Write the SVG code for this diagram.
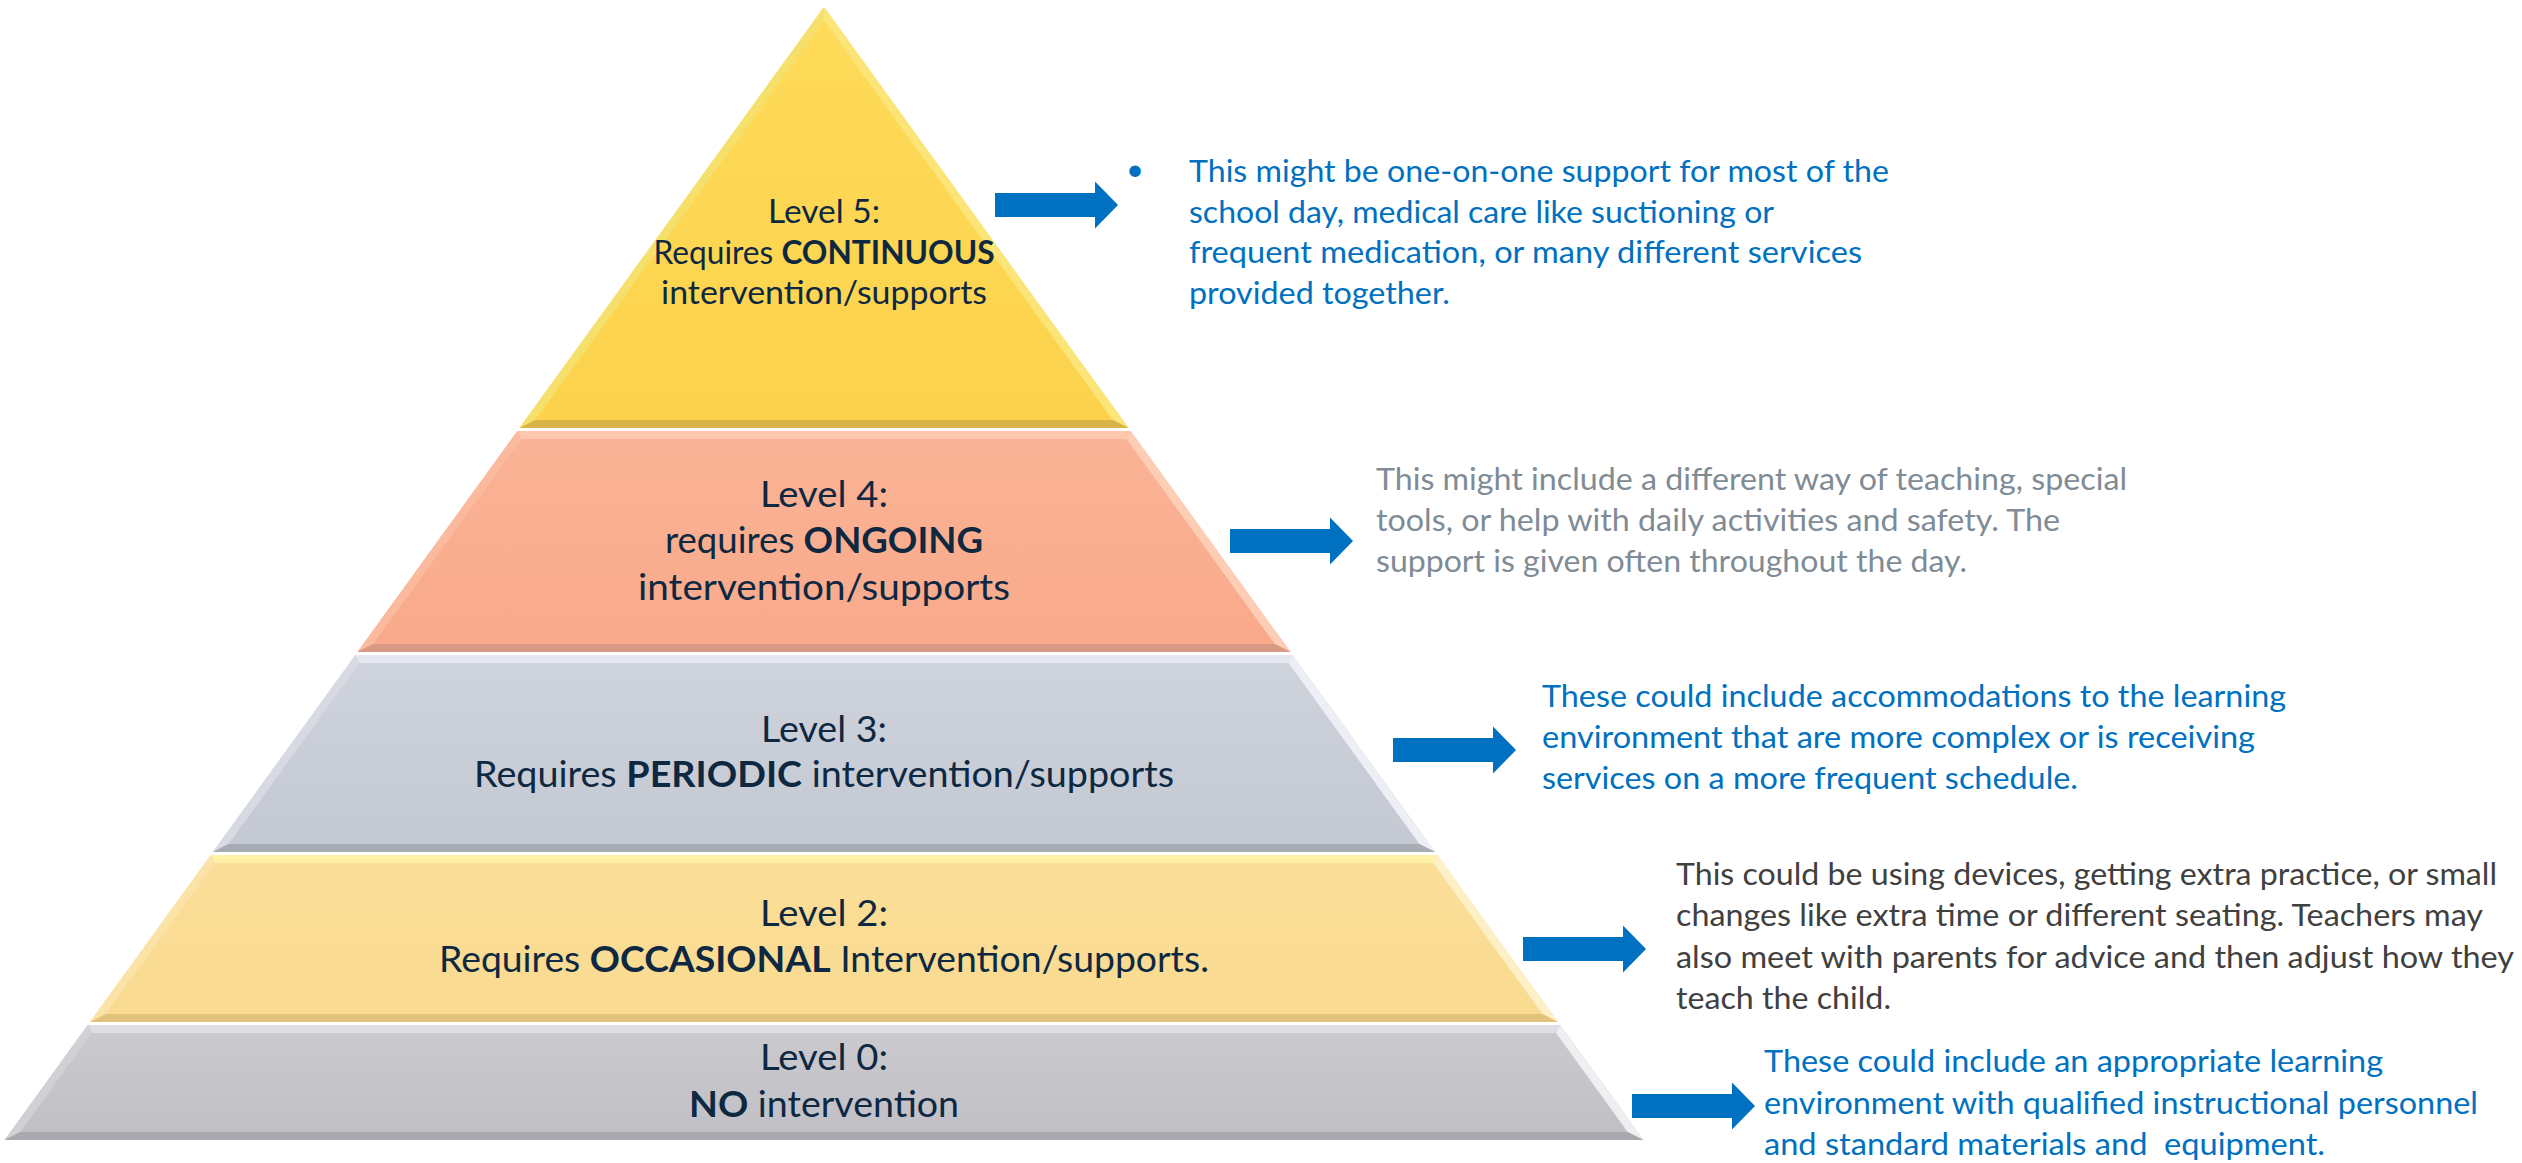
<svg xmlns="http://www.w3.org/2000/svg" width="2522" height="1163" viewBox="0 0 2522 1163">
<defs>
<style>
.lbl{font-family:Lato,'Open Sans',sans-serif;fill:#0E2841;text-anchor:middle}
.l5{font-size:32px}
.lx{font-size:36.5px}
.b{font-weight:bold}
.desc{font-family:Lato,'Open Sans',sans-serif;font-size:31px}
.blue{fill:#0070C0}
.grey{fill:#7F8B95}
.dark{fill:#404040}
.arrow{fill:#0070C0}
</style>
<path id="arr" d="M0,-12 H100 V-23.5 L123,0 L100,23.5 V12 H0 Z"/>
<linearGradient id="g5" x1="0" y1="0" x2="0" y2="1"><stop offset="0" stop-color="#FEDB5A"/><stop offset="1" stop-color="#FCD24C"/></linearGradient>
<linearGradient id="g4" x1="0" y1="0" x2="0" y2="1"><stop offset="0" stop-color="#FAB396"/><stop offset="1" stop-color="#F9A98A"/></linearGradient>
<linearGradient id="g3" x1="0" y1="0" x2="0" y2="1"><stop offset="0" stop-color="#CFD3DC"/><stop offset="1" stop-color="#C4C8D2"/></linearGradient>
<linearGradient id="g2" x1="0" y1="0" x2="0" y2="1"><stop offset="0" stop-color="#FBDE98"/><stop offset="1" stop-color="#F9DA90"/></linearGradient>
<linearGradient id="g0" x1="0" y1="0" x2="0" y2="1"><stop offset="0" stop-color="#CBCACF"/><stop offset="1" stop-color="#C0BFC5"/></linearGradient>
</defs>
<rect width="2522" height="1163" fill="#FFFFFF"/>

<g id="level5">
<polygon points="824,7 1128.5,428 519.5,428" fill="url(#g5)"/>
<polygon points="824,7 824,20.6 535.2,420 519.5,428" fill="#F6E06C"/>
<polygon points="824,7 1128.5,428 1112.8,420 824,20.6" fill="#FBE578"/>
<polygon points="519.5,428 1128.5,428 1112.8,420 535.2,420" fill="#D8B448"/>
<text class="lbl l5" x="824" y="223" textLength="112" lengthAdjust="spacingAndGlyphs">Level 5:</text>
<text class="lbl l5" x="824" y="264" textLength="341" lengthAdjust="spacingAndGlyphs">Requires <tspan class="b">CONTINUOUS</tspan></text>
<text class="lbl l5" x="824" y="304" textLength="326" lengthAdjust="spacingAndGlyphs">intervention/supports</text>
</g>

<g id="level4">
<polygon points="517.4,431 1130.6,431 1290.5,652 357.5,652" fill="url(#g4)"/>
<polygon points="517.4,431 1130.6,431 1126.5,439 521.5,439" fill="#FCC7AC"/>
<polygon points="1130.6,431 1290.5,652 1274.8,644 1126.5,439" fill="#FDCDB6"/>
<polygon points="357.5,652 517.4,431 521.5,439 373.2,644" fill="#FBBA9E"/>
<polygon points="357.5,652 1290.5,652 1274.8,644 373.2,644" fill="#D89A84"/>
<text class="lbl lx" x="824" y="507" textLength="128" lengthAdjust="spacingAndGlyphs">Level 4:</text>
<text class="lbl lx" x="824" y="553" textLength="318" lengthAdjust="spacingAndGlyphs">requires <tspan class="b">ONGOING</tspan></text>
<text class="lbl lx" x="824" y="600" textLength="372" lengthAdjust="spacingAndGlyphs">intervention/supports</text>
</g>

<g id="level3">
<polygon points="355.4,655 1292.6,655 1435.1,852 212.9,852" fill="url(#g3)"/>
<polygon points="355.4,655 1292.6,655 1288.5,663 359.5,663" fill="#E4E7EF"/>
<polygon points="1292.6,655 1435.1,852 1419.4,844 1288.5,663" fill="#EDEFF4"/>
<polygon points="212.9,852 355.4,655 359.5,663 228.6,844" fill="#D7DAE2"/>
<polygon points="212.9,852 1435.1,852 1419.4,844 228.6,844" fill="#A8ACB5"/>
<text class="lbl lx" x="824" y="742" textLength="126" lengthAdjust="spacingAndGlyphs">Level 3:</text>
<text class="lbl lx" x="824" y="787" textLength="700" lengthAdjust="spacingAndGlyphs">Requires <tspan class="b">PERIODIC</tspan> intervention/supports</text>
</g>

<g id="level2">
<polygon points="210.7,855 1437.3,855 1558,1022 90,1022" fill="url(#g2)"/>
<polygon points="210.7,855 1437.3,855 1433.2,863 214.8,863" fill="#FDF2A8"/>
<polygon points="1437.3,855 1558,1022 1542.4,1014 1433.2,863" fill="#FEF0C6"/>
<polygon points="90,1022 210.7,855 214.8,863 105.6,1014" fill="#FBE3A8"/>
<polygon points="90,1022 1558,1022 1542.4,1014 105.6,1014" fill="#E2C37E"/>
<text class="lbl lx" x="824" y="926" textLength="128" lengthAdjust="spacingAndGlyphs">Level 2:</text>
<text class="lbl lx" x="824" y="972" textLength="770" lengthAdjust="spacingAndGlyphs">Requires <tspan class="b">OCCASIONAL</tspan> Intervention/supports.</text>
</g>

<g id="level0">
<polygon points="87.8,1025 1560.2,1025 1643.4,1140 4.6,1140" fill="url(#g0)"/>
<polygon points="87.8,1025 1560.2,1025 1556.1,1033 91.9,1033" fill="#DEDEE4"/>
<polygon points="1560.2,1025 1643.4,1140 1627.7,1132 1556.1,1033" fill="#EFEFF2"/>
<polygon points="4.6,1140 87.8,1025 91.9,1033 20.3,1132" fill="#D1D0D5"/>
<polygon points="4.6,1140 1643.4,1140 1627.7,1132 20.3,1132" fill="#A9A8AE"/>
<text class="lbl lx" x="824" y="1070" textLength="128" lengthAdjust="spacingAndGlyphs">Level 0:</text>
<text class="lbl lx" x="824" y="1117" textLength="270" lengthAdjust="spacingAndGlyphs"><tspan class="b">NO</tspan> intervention</text>
</g>

<g id="connectors">
<use href="#arr" class="arrow" transform="translate(995,205)"/>
<use href="#arr" class="arrow" transform="translate(1230,541)"/>
<use href="#arr" class="arrow" transform="translate(1393,750)"/>
<use href="#arr" class="arrow" transform="translate(1523,949)"/>
<use href="#arr" class="arrow" transform="translate(1632,1106)"/>
</g>

<g id="desc5" class="desc blue">
<text x="1135" y="180" text-anchor="middle">•</text>
<text x="1189" y="182" textLength="700" lengthAdjust="spacingAndGlyphs">This might be one-on-one support for most of the</text>
<text x="1189" y="223" textLength="585" lengthAdjust="spacingAndGlyphs">school day, medical care like suctioning or</text>
<text x="1189" y="263" textLength="673" lengthAdjust="spacingAndGlyphs">frequent medication, or many different services</text>
<text x="1189" y="304" textLength="261" lengthAdjust="spacingAndGlyphs">provided together.</text>
</g>

<g id="desc4" class="desc grey">
<text x="1376" y="490" textLength="751" lengthAdjust="spacingAndGlyphs">This might include a different way of teaching, special</text>
<text x="1376" y="531" textLength="684" lengthAdjust="spacingAndGlyphs">tools, or help with daily activities and safety. The</text>
<text x="1376" y="572" textLength="591" lengthAdjust="spacingAndGlyphs">support is given often throughout the day.</text>
</g>

<g id="desc3" class="desc blue">
<text x="1542" y="707" textLength="744" lengthAdjust="spacingAndGlyphs">These could include accommodations to the learning</text>
<text x="1542" y="748" textLength="713" lengthAdjust="spacingAndGlyphs">environment that are more complex or is receiving</text>
<text x="1542" y="789" textLength="536" lengthAdjust="spacingAndGlyphs">services on a more frequent schedule.</text>
</g>

<g id="desc2" class="desc dark">
<text x="1676" y="885" textLength="821" lengthAdjust="spacingAndGlyphs">This could be using devices, getting extra practice, or small</text>
<text x="1676" y="926" textLength="807" lengthAdjust="spacingAndGlyphs">changes like extra time or different seating. Teachers may</text>
<text x="1676" y="968" textLength="838" lengthAdjust="spacingAndGlyphs">also meet with parents for advice and then adjust how they</text>
<text x="1676" y="1009" textLength="215" lengthAdjust="spacingAndGlyphs">teach the child.</text>
</g>

<g id="desc0" class="desc blue">
<text x="1764" y="1072" textLength="619" lengthAdjust="spacingAndGlyphs">These could include an appropriate learning</text>
<text x="1764" y="1114" textLength="714" lengthAdjust="spacingAndGlyphs">environment with qualified instructional personnel</text>
<text x="1764" y="1155" textLength="561" lengthAdjust="spacingAndGlyphs" style="white-space:pre">and standard materials and  equipment.</text>
</g>
</svg>
